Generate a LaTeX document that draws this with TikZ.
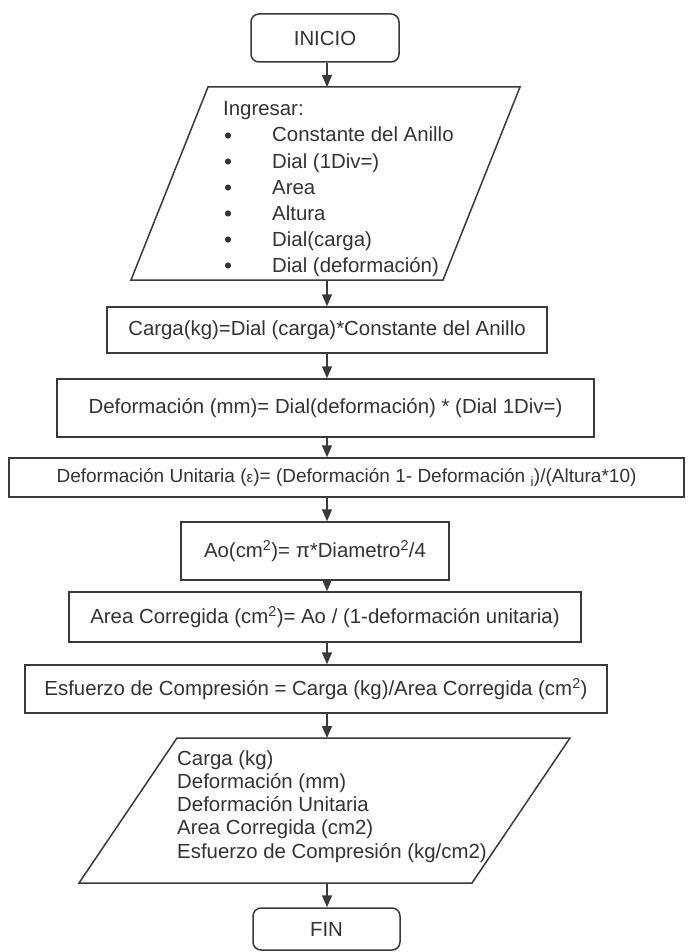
\documentclass[tikz,border=0pt]{standalone}
\usepackage{fontspec}
\setmainfont{Liberation Sans}
\usetikzlibrary{arrows.meta}
\definecolor{ln}{HTML}{3A3A3A}
\definecolor{tx}{HTML}{333333}
\begin{document}
\begin{tikzpicture}[x=1pt,y=-1pt,
  every node/.style={font=\fontsize{20.4}{24}\selectfont, text=tx},
  box/.style={draw=ln, line width=1.5pt, rectangle, inner sep=0pt},
  term/.style={box, rounded corners=8pt},
  arr/.style={draw=ln, line width=1.5pt, -{Triangle[length=12pt,width=10pt]}},
  para/.style={draw=ln, line width=1.5pt, line join=miter},
  lbl/.style={anchor=base west, inner sep=0pt},
]
\useasboundingbox[fill=white] (0,0) rectangle (688,952);
\coordinate (ax) at (327,0);

% INICIO
\node[term, minimum width=148pt, minimum height=48pt] (inicio) at (325,38) {INICIO};

% input parallelogram
\coordinate (e1) at (208,87);
\coordinate (e2) at (520,87);
\coordinate (e3) at (443,280);
\coordinate (e4) at (131,280);
\coordinate (eN) at (327,87);
\coordinate (eS) at (327,280);
\draw[para] (e1) -- (e2) -- (e3) -- (e4) -- cycle;
\node[lbl] (ing) at (223,116) {Ingresar:};
\foreach \i/\t in {1/{Constante del Anillo},2/{Dial (1Div=)},3/{Area},4/{Altura},5/{Dial(carga)},6/{Dial (deformación)}}{
  \fill[tx] (228,{116+26*\i-6.5}) circle (3.1pt);
  \node[lbl] (it\i) at (272,{116+26*\i}) {\t};
}

% process boxes
\node[box, minimum width=440pt, minimum height=46pt] (carga) at (327,330) {Carga(kg)=Dial (carga)*Constante del Anillo};
\node[box, minimum width=537pt, minimum height=58pt] (defo) at (325.5,408) {Deformación (mm)= Dial(deformación) * (Dial 1Div=)};
\node[box, minimum width=675pt, minimum height=39pt, font=\fontsize{19}{22}\selectfont] (du) at (346.5,477.5) {Deformación Unitaria ({\fontsize{15}{18}\selectfont ε})= (Deformación 1- Deformación \textsubscript{i})/(Altura*10)};
\node[box, minimum width=268pt, minimum height=58pt] (ao) at (315,551) {Ao(cm\textsuperscript{2})= π*Diametro\textsuperscript{2}/4};
\node[box, minimum width=512pt, minimum height=50pt] (ac) at (325,617) {Area Corregida (cm\textsuperscript{2})= Ao / (1-deformación unitaria)};
\node[box, minimum width=582pt, minimum height=48pt] (ec) at (316,689) {Esfuerzo de Compresión = Carga (kg)/Area Corregida (cm\textsuperscript{2})};

% output parallelogram
\coordinate (s1) at (177,738);
\coordinate (s2) at (570,738);
\coordinate (s3) at (472,883);
\coordinate (s4) at (79,883);
\coordinate (sN) at (327,738);
\coordinate (sS) at (327,883);
\draw[para] (s1) -- (s2) -- (s3) -- (s4) -- cycle;
\foreach \i/\t in {0/{Carga (kg)},1/{Deformación (mm)},2/{Deformación Unitaria},3/{Area Corregida (cm2)},4/{Esfuerzo de Compresión (kg/cm2)}}{
  \node[lbl] (o\i) at (177,{765+23.3*\i}) {\t};
}

% FIN
\node[term, minimum width=147pt, minimum height=42pt] (fin) at (326.5,929) {FIN};

% connectors
\draw[arr] (inicio.south -| ax) -- (eN);
\draw[arr] (eS) -- (carga.north -| ax);
\draw[arr] (carga.south -| ax) -- (defo.north -| ax);
\draw[arr] (defo.south -| ax) -- (du.north -| ax);
\draw[arr] (du.south -| ax) -- (ao.north -| ax);
\draw[arr] (ao.south -| ax) -- (ac.north -| ax);
\draw[arr] (ac.south -| ax) -- (ec.north -| ax);
\draw[arr] (ec.south -| ax) -- (sN);
\draw[arr] (sS) -- (fin.north -| ax);
\end{tikzpicture}
\end{document}
